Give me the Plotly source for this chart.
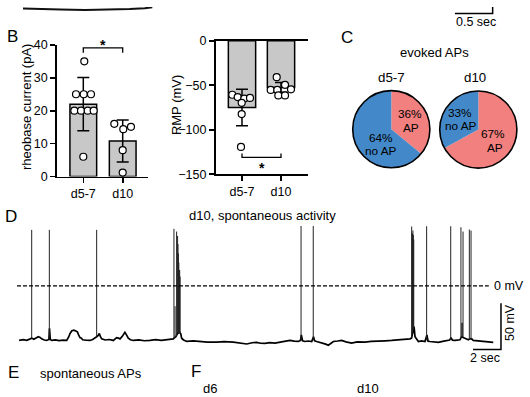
import plotly.graph_objects as go

W, H = 530, 397
FONT = "Liberation Sans, Arial, Helvetica, sans-serif"
RED = "#f1807e"
BLUE = "#4388c8"
GREY = "#c8c8c8"

# ---------------- data ----------------
groups = ["d5-7", "d10"]

rheo_mean = [22.0, 10.8]
rheo_sd = [8.1, 6.4]
rheo_pts_d57 = [35, 25, 25, 25, 20, 20, 20, 20, 6]
rheo_pts_d10 = [16.0, 14.4, 15.1, 8.0, 1.2]

rmp_mean = [-75.0, -52.5]
rmp_sd = [20.5, 5.5]
rmp_pts_d57 = [-60.7, -63.3, -65.0, -64.3, -69.8, -82.4, -119.3]
rmp_pts_d10 = [-40.9, -55.3, -55.3, -49.5, -54.6, -61.5, -61.5]

pie_groups = ["d5-7", "d10"]
pie_labels = ["AP", "no AP"]
pie_ap_pct = [36, 67]
pie_noap_pct = [64, 33]

# D: spontaneous activity trace (time s, membrane potential mV)
d_base_t = [0.15, 0.45, 0.70, 0.93, 1.05, 1.20, 1.35, 1.52, 1.65, 1.76, 1.95, 2.12, 2.28, 2.32, 2.38,
            2.48, 2.75, 3.00, 3.30, 3.55, 3.70, 3.79, 3.92, 4.07, 4.20, 4.31, 4.40, 4.50, 4.60, 4.69,
            4.95, 5.21, 5.40, 5.57, 5.69, 5.80, 5.88, 5.96, 6.05, 6.30, 6.60, 6.88, 7.00, 7.12, 7.25,
            7.36, 7.55, 7.71, 7.82, 7.95, 8.10, 8.31, 8.70, 9.10, 9.50, 9.90, 10.30, 10.69, 10.95,
            11.17, 11.25, 11.35, 11.45, 11.60, 11.70, 11.76, 11.90, 12.12, 12.60, 13.07, 13.60, 14.26,
            14.80, 15.45, 15.90, 16.41, 16.80, 17.12, 17.40, 17.71, 18.05, 18.43, 18.90, 19.50, 19.80,
            20.09, 20.25, 20.31, 20.40, 20.57, 20.80, 21.05, 21.18, 21.26, 21.40, 21.65, 21.88, 22.05,
            22.24, 22.40, 22.60, 22.90, 23.19, 23.50, 23.90, 24.30, 24.86, 25.30, 25.81, 26.30, 26.76,
            27.20, 27.71, 28.07, 28.18, 28.36, 28.43, 28.55, 28.67, 28.90, 29.14, 29.28, 29.36, 29.50,
            29.80, 30.10, 30.40, 30.69, 30.90, 31.00, 31.10, 31.29, 31.50, 31.64, 31.75, 31.90, 32.00,
            32.24, 32.35, 32.50, 32.59, 32.90, 33.19, 33.60, 34.02]
d_base_v = [-59.0, -58.2, -58.8, -57.3, -56.5, -57.8, -56.0, -54.9, -55.8, -57.3, -58.5, -59.0, -58.0, -46.0, -58.0,
            -59.0, -58.4, -59.2, -58.6, -59.0, -55.0, -51.4, -48.5, -47.9, -48.8, -49.7, -53.0, -55.9, -56.5, -58.3,
            -58.8, -59.0, -58.0, -56.6, -55.0, -53.5, -51.4, -55.0, -57.3, -58.5, -58.0, -59.0, -57.5, -55.9, -56.5,
            -57.3, -54.0, -50.3, -53.0, -56.6, -58.2, -59.0, -58.4, -59.3, -59.0, -58.2, -59.0, -58.3, -57.8,
            -57.3, -56.0, -55.0, -52.0, -50.0, -52.0, -56.6, -58.5, -60.1, -59.5, -60.1, -60.8, -60.8,
            -60.2, -60.8, -61.8, -62.8, -61.5, -61.1, -62.0, -62.2, -61.4, -61.8, -60.5, -59.0, -59.8,
            -60.1, -59.0, -53.0, -59.5, -60.1, -59.6, -60.1, -55.0, -59.5, -60.1, -61.0, -61.8, -63.0,
            -64.2, -62.0, -60.1, -59.6, -59.0, -60.5, -61.8, -60.6, -60.8, -60.0, -60.1, -59.4, -59.0,
            -58.6, -58.3, -57.3, -56.5, -44.0, -54.9, -58.0, -60.1, -59.5, -60.1, -53.0, -59.8, -60.1,
            -60.6, -61.1, -60.0, -59.4, -58.6, -56.0, -58.8, -59.0, -58.6, -58.3, -55.0, -56.0, -57.3,
            -58.3, -57.0, -57.5, -59.0, -59.5, -60.1, -60.4, -61.1]
d_spike_t = [1.05, 2.31, 5.69, 11.21, 11.29, 11.40, 11.47, 11.50, 11.53, 11.56, 11.59, 11.62, 11.65,
             20.29, 21.16, 28.19, 28.22, 28.25, 28.28, 28.31, 28.34, 29.26, 30.98,
             31.71, 31.78, 31.80, 31.86, 32.31, 32.43]
d_spike_foot = [-56.5, -57.0, -55.0, -56.5, -56.0, -55.0, -51.0, -51.0, -51.0, -51.0, -51.0, -51.0, -51.0,
                -59.0, -59.0, -56.5, -52.0, -50.0, -48.0, -47.0, -46.0, -59.0, -58.0,
                -56.0, -55.0, -55.0, -55.5, -58.0, -57.5]
d_spike_peak = [60.4, 60.4, 60.4, 61.5, -22.0, 58.6, 53.9, 45.0, 35.0, 25.0, 17.0, 17.0, 10.0,
                64.6, 64.6, 64.0, 57.0, 56.0, 59.7, 55.0, 50.0, 64.3, 64.3,
                63.2, -40.0, -40.0, 58.6, 60.7, 59.7]

# A (remnant at the top edge)
a_trace_t = [0.305, 0.53, 0.80, 1.13, 1.46, 1.72, 1.92, 2.02]
a_trace_v = [-1.5, -2.2, -2.6, -3.0, -2.8, -2.2, -1.2, -0.3]

# ---------------- layout helpers (positions only) ----------------
rheo_jit_d57 = [0.025, -0.185, 0.01, 0.195, -0.228, -0.058, 0.112, 0.264, 0.0]
rheo_jit_d10 = [-0.213, 0.015, 0.21, 0.0, 0.0]
rmp_jit_d57 = [-0.249, -0.110, 0.059, 0.205, -0.008, -0.008, -0.026]
rmp_jit_d10 = [-0.110, -0.264, -0.095, 0.103, 0.256, -0.069, 0.103]


def px(p):
    return p / W


def py(p):
    return 1 - p / H


fig = go.Figure()

bar_line = dict(color="black", width=1.5)
err_style = dict(type="data", symmetric=True, color="black", thickness=1.5, width=6)

# ---- B left: rheobase ----
fig.add_trace(go.Bar(x=[0, 1], y=rheo_mean, width=0.678, marker=dict(color=GREY, line=bar_line),
                     error_y=dict(array=rheo_sd, **err_style), xaxis="x", yaxis="y"))
fig.add_trace(go.Scatter(x=[0 + j for j in rheo_jit_d57] + [1 + j for j in rheo_jit_d10],
                         y=rheo_pts_d57 + rheo_pts_d10, mode="markers",
                         marker=dict(symbol="circle", size=7, color="white", line=dict(color="black", width=1.2)),
                         xaxis="x", yaxis="y", cliponaxis=False))
rheo_br = 39.1
fig.add_trace(go.Scatter(x=[0, 0, 1, 1], y=[rheo_br - 1.5, rheo_br, rheo_br, rheo_br - 1.5], mode="lines",
                         line=dict(color="black", width=1.3), xaxis="x", yaxis="y"))

# ---- B right: RMP ----
fig.add_trace(go.Bar(x=[0, 1], y=rmp_mean, width=0.70, marker=dict(color=GREY, line=bar_line),
                     error_y=dict(array=rmp_sd, **err_style), xaxis="x2", yaxis="y2"))
fig.add_trace(go.Scatter(x=[0 + j for j in rmp_jit_d57] + [1 + j for j in rmp_jit_d10],
                         y=rmp_pts_d57 + rmp_pts_d10, mode="markers",
                         marker=dict(symbol="circle", size=7, color="white", line=dict(color="black", width=1.2)),
                         xaxis="x2", yaxis="y2", cliponaxis=False))
rmp_br = -131.2
fig.add_trace(go.Scatter(x=[0, 0, 1, 1], y=[rmp_br + 4.6, rmp_br, rmp_br, rmp_br + 4.6], mode="lines",
                         line=dict(color="black", width=1.3), xaxis="x2", yaxis="y2"))

# ---- C: pies ----
pie_centers = [(391.3, 126.7), (478.3, 127.0)]
R = 40
for i, (cx, cy) in enumerate(pie_centers):
    dom = dict(x=[px(cx - R), px(cx + R)], y=[py(cy + R), py(cy - R)])
    fig.add_trace(go.Pie(values=[pie_ap_pct[i], pie_noap_pct[i]], labels=pie_labels, sort=False,
                         direction="clockwise", rotation=0, textinfo="none", hoverinfo="skip",
                         marker=dict(colors=[RED, BLUE], line=dict(width=0)), domain=dom, showlegend=False))
    fig.add_trace(go.Pie(values=[1], labels=["outline"], sort=False, textinfo="none", hoverinfo="skip",
                         marker=dict(colors=["rgba(0,0,0,0)"], line=dict(color="black", width=1.6)),
                         domain=dom, showlegend=False))

# ---- D: trace ----
fig.add_trace(go.Scatter(x=d_base_t, y=d_base_v, mode="lines", line=dict(color="black", width=1.7),
                         xaxis="x3", yaxis="y3"))
sx, sy = [], []
for t, f, p in zip(d_spike_t, d_spike_foot, d_spike_peak):
    sx += [t, t, None]
    sy += [f, p, None]
fig.add_trace(go.Scatter(x=sx, y=sy, mode="lines", line=dict(color="#222222", width=1.0),
                         xaxis="x3", yaxis="y3"))
fig.add_trace(go.Scatter(x=[0, 33.7], y=[0, 0], mode="lines", line=dict(color="black", width=1.3, dash="4px,2px"),
                         xaxis="x3", yaxis="y3"))
d_sb_t, d_sb_v = 34.57, -68.75
fig.add_trace(go.Scatter(x=[d_sb_t - 2, d_sb_t, d_sb_t], y=[d_sb_v, d_sb_v, d_sb_v + 50], mode="lines",
                         line=dict(color="black", width=1.5), xaxis="x3", yaxis="y3"))

# ---- A remnant ----
fig.add_trace(go.Scatter(x=a_trace_t, y=a_trace_v, mode="lines", line=dict(color="#111111", width=2),
                         xaxis="x4", yaxis="y4"))
a_sb_t, a_sb_v = 6.534, -6.7
fig.add_trace(go.Scatter(x=[a_sb_t - 0.5, a_sb_t, a_sb_t], y=[a_sb_v, a_sb_v, a_sb_v + 20], mode="lines",
                         line=dict(color="black", width=1.5), xaxis="x4", yaxis="y4"))

# ---------------- axes ----------------
tickfont = dict(family=FONT, size=12.5, color="black")
common = dict(showline=True, linecolor="black", linewidth=1.8, ticks="outside", ticklen=5, tickwidth=1.6,
              tickcolor="black", showgrid=False, zeroline=False, tickfont=tickfont, fixedrange=True)

d_y0, d_y1 = 372, 220
layout = dict(
    width=W, height=H, margin=dict(l=0, r=0, t=0, b=0), paper_bgcolor="white", plot_bgcolor="rgba(0,0,0,0)",
    showlegend=False, font=dict(family=FONT, color="black"),
    xaxis=dict(domain=[px(57), px(148)], range=[(57 - 83.3) / 39.4, 1 + (148 - 122.7) / 39.4],
               tickvals=[0, 1], ticktext=groups, anchor="y", **common),
    yaxis=dict(domain=[py(175.7), py(39.3)], range=[0, 40], tickvals=[0, 10, 20, 30, 40], anchor="x", **common),
    xaxis2=dict(domain=[px(215.7), px(307.7)], range=[(215.7 - 242) / 39, 1 + (307.7 - 281) / 39],
                tickvals=[0, 1], ticktext=groups, anchor="y2", mirror=True, **common),
    yaxis2=dict(domain=[py(173.3), py(35)], range=[-150, 0], tickvals=[0, -50, -100, -150], anchor="x2", **common),
    xaxis3=dict(domain=[0, 1], range=[(0 - 17) / 14, (W - 17) / 14], visible=False, anchor="y3", fixedrange=True),
    yaxis3=dict(domain=[py(d_y0), py(d_y1)], range=[(289 - d_y0) / 0.96, (289 - d_y1) / 0.96], visible=False,
                anchor="x3", fixedrange=True),
    xaxis4=dict(domain=[0, 1], range=[0, W / 75.4], visible=False, anchor="y4", fixedrange=True),
    yaxis4=dict(domain=[py(24), 1], range=[-24, 0], visible=False, anchor="x4", fixedrange=True),
)
fig.update_layout(**layout)


def ann(text, x, y, size=13, angle=0):
    return dict(text=text, x=px(x), y=py(y), xref="paper", yref="paper", showarrow=False,
                font=dict(family=FONT, size=size, color="black"), textangle=angle,
                xanchor="center", yanchor="middle")


PS = 11.8
anns = [
    ann("B", 12.5, 31, 17), ann("C", 346.7, 32, 17), ann("D", 11, 217.5, 17),
    ann("E", 13, 379, 17), ann("F", 196, 378, 17),
    ann("rheobase current (pA)", 26.7, 104, 13, -90),
    ann("RMP (mV)", 176.7, 102, 13, -90),
    ann("<b>*</b>", 103.3, 39.5, 14), ann("<b>*</b>", 262.3, 166.8, 14),
    ann("evoked APs", 434.3, 47.3, 13),
    ann(pie_groups[0], 391.7, 72.7, 13.3), ann(pie_groups[1], 475, 72.7, 13.3),
    ann(f"{pie_ap_pct[0]}%", 410, 111.4, PS), ann(pie_labels[0], 410.5, 125.2, PS),
    ann(f"{pie_noap_pct[0]}%", 381.3, 135.7, PS), ann(pie_labels[1], 381.3, 149.5, PS),
    ann(f"{pie_noap_pct[1]}%", 460, 110.0, PS), ann(pie_labels[1], 460.5, 123.8, PS),
    ann(f"{pie_ap_pct[1]}%", 493.3, 131.8, PS), ann(pie_labels[0], 494.5, 146.0, PS),
    ann("d10, spontaneous activity", 262, 216.5, 13),
    ann("0 mV", 508.5, 289, 12.5), ann("50 mV", 510.5, 327, 12.5, -90), ann("2 sec", 484.5, 363.5, 12.5),
    ann("0.5 sec", 476, 16, 12.5),
    ann("spontaneous APs", 91, 380, 13), ann("d6", 210, 395, 13), ann("d10", 368, 395, 13),
]
fig.update_layout(annotations=anns)

fig.write_html("out.html", config={"displayModeBar": False, "staticPlot": True},
               post_script="document.body.style.margin='0px';document.body.style.overflow='hidden';")
